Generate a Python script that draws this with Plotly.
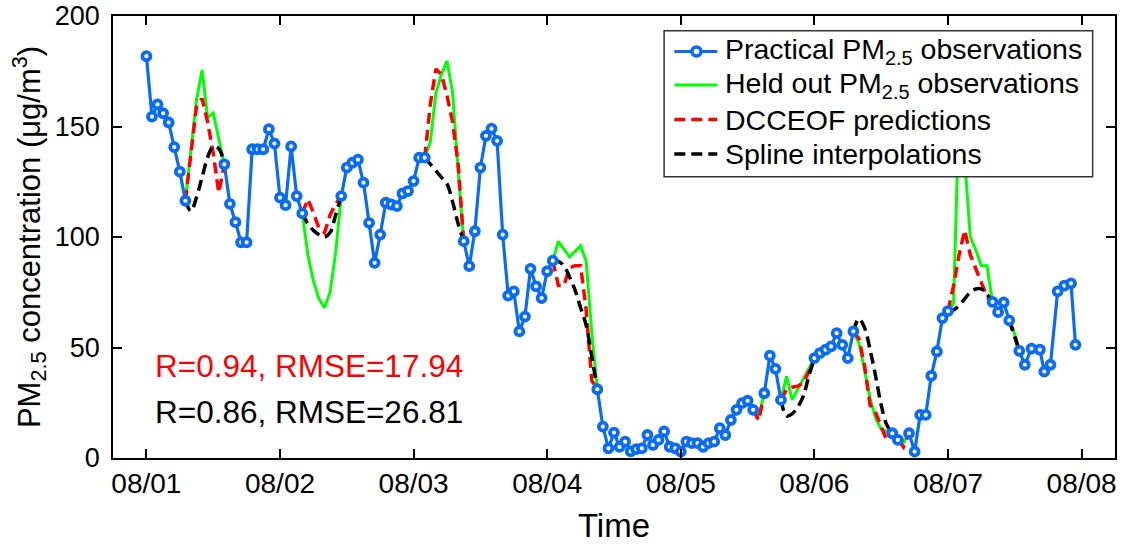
import plotly.graph_objects as go

N = None
# ---------------- data (hours since 08/01 00:00) ----------------
obs_time = (list(range(0, 8)) + [7.5] + list(range(14, 29)) + [28.5] + list(range(35, 51)) + [50.5]
            + list(range(57, 74)) + [73.5] + list(range(81, 110)) + [109.5] + list(range(111, 115)) + [114.5]
            + list(range(120, 128)) + [127.5] + [134, 135] + [135.5] + list(range(137, 145)) + [144.5]
            + [152, 153, 154, 155] + [155.5]
            + [156.8, 157.8, 159, 160.5, 161.3, 162.4, 163.7, 164.9, 166.1, 166.9])
obs_pm = ([181.8, 154.5, 160, 156, 151.8, 140.7, 129.6, 116.4, N,
           132.9, 115, 106.7, 97.6, 97.6, 139.7, 139.7, 139.7, 148.8, 142.3, 117.8, 114.4, 141, 118.5, 110.7, N,
           118.5, 131.4, 133.6, 135, 124.6, 106.4, 88.3, 101.1, 115.5, 114.7, 114, 119.7, 120.8, 125.3, 135.9, 135.9, N,
           98.1, 86.8, 102.6, 131.4, 145.8, 149, 143.5, 101.1, 73.5, 75.4, 57.3, 64, 85.6, 77.7, 72.4, 84.5, 89.3, N,
           31.1, 14.2, 4.4, 11.5, 5, 7.4, 3, 4, 4.4, 10.4, 5.9, 8.2, 12, 5.1, 4.4, 2.9, 7.4, 6.7, 6.7, 5.1, 6.7, 7.4,
           13.5, 10.4, 17.2, 21.8, 24.8, 25.9, 21.8, N,
           29.3, 46.3, 40.3, 26.3, N,
           45.2, 47.5, 49, 50.5, 56.5, 51.2, 45.2, 57.3, N,
           11.2, 8.2, N,
           11.2, 2.9, 19.5, 19.5, 37.2, 48.2, 63.3, 66.5, N,
           70.6, 66, 70.4, 62.3, N,
           48.5, 42.2, 49.5, 49, 39.1, 42.2, 75.4, 78, 79, 51.2])

gap_time = (list(range(7, 15)) + [14.5] + list(range(28, 36)) + [35.5] + list(range(50, 58)) + [57.5]
            + list(range(73, 82)) + [81.5] + [109, 110, 111] + [111.5] + list(range(114, 121)) + [120.5]
            + list(range(127, 135)) + [134.5] + [135, 136, 137] + [137.5] + list(range(144, 153)) + [152.5]
            + [155, 156, 156.8])
held_pm = ([116.4, 138, 162, 175.6, 154, 156, 145, 132.9, N,
            110.7, 92, 80, 72, 68, 75, 93, 118.5, N,
            135.9, 143, 165, 173.5, 179.7, 165.4, 130, 98.1, N,
            89.3, 98, 94.5, 91, 93.5, 96, 89, 57, 31.1, N,
            21.8, 19, 29.3, N,
            26.3, 37, 26.3, 31, 36, 40.5, 45.2, N,
            57.3, 52, 40, 27, 18, 13, 12, 11.2, N,
            8.2, 7, 11.2, N,
            66.5, 70, 160, 135, 100, 94, 87, 87, 70.6, N,
            62.3, 56, 48.5])
dcceof_pm = ([116.4, 138, 159, 162.7, 152, 138, 120, 132.9, N,
              110.7, 117, 111, 104, 102, 110, 115, 118.5, N,
              135.9, 160, 176, 173.5, 164, 152, 133, 98.1, N,
              89.3, 78, 78, 86, 87, 87, 67, 35, 31.1, N,
              21.8, 17, 29.3, N,
              26.3, 31, 32, 32.5, 34, 39, 45.2, N,
              57.3, 54, 42, 24, 20.5, 14, 8, 11.2, N,
              8.2, 5, 11.2, N,
              66.5, 78, 92, 103, 92, 86, 80, 73, 70.6, N,
              62.3, 55, 48.5])
spline_pm = ([116.4, 111.7, 118, 127, 136, 141, 140, 132.9, N,
              110.7, 106, 103, 101, 100, 102, 110, 118.5, N,
              135.9, 133, 130, 127, 124, 116, 106, 98.1, N,
              89.3, 89, 87, 82, 76, 68, 60, 46, 31.1, N,
              N, N, N, N,
              26.3, 19, 20, 23, 28, 37, 45.2, N,
              57.3, 63, 59, 49, 37, 24, 15, 11.2, N,
              N, N, N, N,
              66.5, 67, 69, 72, 75, 76.5, 76.5, 74, 70.6, N,
              62.3, 55, 48.5])

tick_hours = [0, 24, 48, 72, 96, 120, 144, 168]
tick_labels = ["08/01", "08/02", "08/03", "08/04", "08/05", "08/06", "08/07", "08/08"]
series_names = ["Practical PM<sub>2.5</sub> observations", "Held out PM<sub>2.5</sub> observations",
                "DCCEOF predictions", "Spline interpolations"]
stats_red = "R=0.94, RMSE=17.94"
stats_black = "R=0.86, RMSE=26.81"

FONT = "Liberation Sans, Arial, Helvetica, sans-serif"
BLUE = "#0a6cf0"
GREEN = "#00ff00"
RED = "#ff0000"
BLACK = "#000000"
DASH = "11px,6px"

fig = go.Figure()
fig.add_trace(go.Scatter(x=gap_time, y=held_pm, mode="lines", name=series_names[1],
                         line=dict(color=GREEN, width=3), showlegend=False))
fig.add_trace(go.Scatter(x=gap_time, y=dcceof_pm, mode="lines", name=series_names[2],
                         line=dict(color=RED, width=3.5, dash=DASH), showlegend=False))
fig.add_trace(go.Scatter(x=gap_time, y=spline_pm, mode="lines", name=series_names[3],
                         line=dict(color=BLACK, width=3.5, dash=DASH, shape="spline"), showlegend=False))
fig.add_trace(go.Scatter(x=obs_time, y=obs_pm, mode="lines+markers", name=series_names[0],
                         line=dict(color=BLUE, width=3.2),
                         marker=dict(symbol="circle", size=8, color="white", line=dict(color=BLUE, width=3.8)),
                         showlegend=False))

# stats text
fig.add_annotation(x=1.2, y=41.7, xref="x", yref="y", text=stats_red, showarrow=False, xanchor="left",
                   font=dict(family=FONT, size=31.5, color=RED))
fig.add_annotation(x=1.2, y=20.9, xref="x", yref="y", text=stats_black, showarrow=False, xanchor="left",
                   font=dict(family=FONT, size=31.5, color=BLACK))

# ---------------- legend box (drawn as layout decoration) ----------------
leg_x0, leg_x1, leg_y0, leg_y1 = 0.550, 0.9777, 0.6364, 0.9667
sym_x0, sym_x1, sym_xm, txt_x = 0.5602, 0.6031, 0.5823, 0.6085
row_y = [0.9197, 0.8439, 0.7658, 0.6878]
fig.add_shape(type="rect", xref="paper", yref="paper", x0=leg_x0, x1=leg_x1, y0=leg_y0, y1=leg_y1,
              fillcolor="white", line=dict(color="#333333", width=1.5), layer="above")
sym_styles = [dict(color=BLUE, width=3.2), dict(color=GREEN, width=3),
              dict(color=RED, width=3.5, dash=DASH), dict(color=BLACK, width=3.5, dash=DASH)]
for yy, st, name in zip(row_y, sym_styles, series_names):
    fig.add_shape(type="line", xref="paper", yref="paper", x0=sym_x0, x1=sym_x1, y0=yy, y1=yy,
                  line=st, layer="above")
    fig.add_annotation(x=txt_x, y=yy, xref="paper", yref="paper", text=name, showarrow=False,
                       xanchor="left", yanchor="middle", font=dict(family=FONT, size=28.5, color=BLACK))
fig.add_shape(type="circle", xref="paper", yref="paper", xsizemode="pixel", ysizemode="pixel",
              xanchor=sym_xm, yanchor=row_y[0], x0=-4.5, x1=4.5, y0=-4.5, y1=4.5,
              fillcolor="white", line=dict(color=BLUE, width=3.5), layer="above")

axis_common = dict(showline=True, linecolor="black", linewidth=1.5, mirror="ticks", ticks="inside",
                   ticklen=9, tickwidth=1.5, tickcolor="black", showgrid=False, zeroline=False,
                   automargin=False)
fig.update_xaxes(range=[-6, 174], tickvals=tick_hours, ticktext=tick_labels, ticklabelstandoff=0,
                 tickfont=dict(family=FONT, size=28, color="black"),
                 title=dict(text="Time", font=dict(family=FONT, size=33, color="black"), standoff=16),
                 **axis_common)
fig.update_yaxes(range=[0, 200], tickvals=[0, 50, 100, 150, 200], ticklabelstandoff=6,
                 tickfont=dict(family=FONT, size=27, color="black"),
                 title=dict(text="PM<sub>2.5</sub> concentration (μg/m<sup>3</sup>)",
                            font=dict(family=FONT, size=31, color="black"), standoff=5),
                 **axis_common)

fig.update_layout(
    width=1127, height=546,
    margin=dict(l=113, r=12, t=16, b=88),
    paper_bgcolor="white", plot_bgcolor="white",
    font=dict(family=FONT, color="black"),
    showlegend=False,
)

fig.write_html("out.html")
